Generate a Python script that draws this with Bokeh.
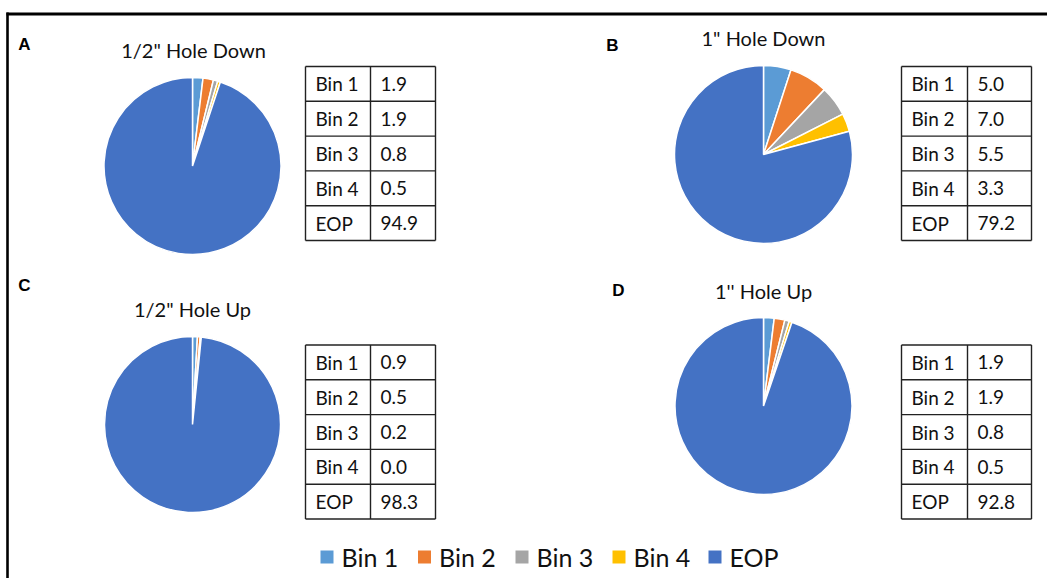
import math
from bokeh.plotting import figure
from bokeh.models import Range1d, ColumnDataSource
from bokeh.embed import file_html
from bokeh.resources import INLINE
from bokeh.core.properties import value

# ---- data -------------------------------------------------------------
categories = ["Bin 1", "Bin 2", "Bin 3", "Bin 4", "EOP"]
colors = ["#5B9BD5", "#ED7D31", "#A5A5A5", "#FFC000", "#4472C4"]

panel_letters = ["A", "B", "C", "D"]
panel_titles = ['1/2" Hole Down', '1" Hole Down', '1/2" Hole Up', "1'' Hole Up"]

half_hole_down = [1.9, 1.9, 0.8, 0.5, 94.9]
one_hole_down = [5.0, 7.0, 5.5, 3.3, 79.2]
half_hole_up = [0.9, 0.5, 0.2, 0.0, 98.3]
one_hole_up = [1.9, 1.9, 0.8, 0.5, 92.8]
panel_values = [half_hole_down, one_hole_down, half_hole_up, one_hole_up]

# ---- page geometry (pixel space, y measured from the top) -------------
W, H = 1047, 578
FONT = "Lato"

# per panel: pie centre, radius, title centre, letter centre, table top-left, column widths
layout = [
    dict(pie=(192, 165.5), r=88.5, title=(193, 49), letter=(24, 44), table=(305, 66), cols=(65, 65)),
    dict(pie=(763, 154), r=89, title=(763, 37), letter=(612, 45), table=(901, 66), cols=(66, 64)),
    dict(pie=(192, 424), r=88, title=(192, 308), letter=(24, 285), table=(305, 344.5), cols=(65, 65)),
    dict(pie=(763, 405.5), r=88.5, title=(763, 290), letter=(618, 290), table=(901, 344.5), cols=(66, 64)),
]
ROW_H = 34.8


def Y(ypx):
    return H - ypx


p = figure(width=W, height=H, x_range=Range1d(0, W), y_range=Range1d(0, H),
           output_backend="svg", toolbar_location=None, min_border=0)
p.axis.visible = False
p.grid.visible = False
p.outline_line_color = None
p.background_fill_color = "white"
p.border_fill_color = "white"

# frame around the figure panel
p.line(x=[6, W], y=[Y(13.5), Y(13.5)], line_color="black", line_width=3)
p.line(x=[7, 7], y=[Y(12), Y(H)], line_color="black", line_width=2.6)

for vals, title, letter, lay in zip(panel_values, panel_titles, panel_letters, layout):
    total = sum(vals)
    cx, cy = lay["pie"]
    data = dict(x=[], y=[], start=[], end=[], color=[], cat=[], val=[])
    acc = 0.0
    for v, c, cat in zip(vals, colors, categories):
        a0 = math.pi / 2 - 2 * math.pi * acc / total
        acc += v
        a1 = math.pi / 2 - 2 * math.pi * acc / total
        if v <= 0:
            continue  # an empty slice has no wedge
        data["x"].append(cx)
        data["y"].append(Y(cy))
        data["start"].append(a0)
        data["end"].append(a1)
        data["color"].append(c)
        data["cat"].append(cat)
        data["val"].append(v)
    p.wedge(x="x", y="y", radius=lay["r"], start_angle="start", end_angle="end",
            direction="clock", fill_color="color", line_color="white",
            line_width=1.5, source=ColumnDataSource(data))

    # panel title and letter
    tx, ty = lay["title"]
    p.text(x=[tx], y=[Y(ty)], text=[title], text_font=value(FONT),
           text_font_size="20px", text_color="#111111",
           text_align="center", text_baseline="middle")
    lx, ly = lay["letter"]
    p.text(x=[lx], y=[Y(ly)], text=[letter], text_font=value("Liberation Sans"),
           text_font_style="bold", text_font_size="17px", text_color="black",
           text_align="center", text_baseline="middle")

    # value table
    x0, y0 = lay["table"]
    c1, c2 = lay["cols"]
    n = len(vals)
    ys = [y0 + k * ROW_H for k in range(n + 1)]
    for yy in ys:
        p.line(x=[x0, x0 + c1 + c2], y=[Y(yy), Y(yy)], line_color="#222222", line_width=1.4)
    for xx in (x0, x0 + c1, x0 + c1 + c2):
        p.line(x=[xx, xx], y=[Y(ys[0]), Y(ys[-1])], line_color="#222222", line_width=1.4)
    row_mid = [Y(y0 + (k + 0.5) * ROW_H) for k in range(n)]
    p.text(x=[x0 + 10] * n, y=row_mid, text=categories, text_font=value(FONT),
           text_font_size="19px", text_color="#111111",
           text_align="left", text_baseline="middle")
    p.text(x=[x0 + c1 + 10] * n, y=row_mid, text=[f"{v:.1f}" for v in vals],
           text_font=value(FONT), text_font_size="19px", text_color="#111111",
           text_align="left", text_baseline="middle")

# shared legend
leg_x = [326.5, 424, 521.5, 618.5, 714.5]
leg_y = Y(556.5)
p.rect(x=leg_x, y=[leg_y] * 5, width=13, height=13, fill_color=colors, line_color=None)
p.text(x=[lx_ + 14.5 for lx_ in leg_x], y=[leg_y] * 5, text=categories,
       text_font=value(FONT), text_font_size="25px", text_color="#111111",
       text_align="left", text_baseline="middle")

open("out.html", "w").write(file_html(p, INLINE))
